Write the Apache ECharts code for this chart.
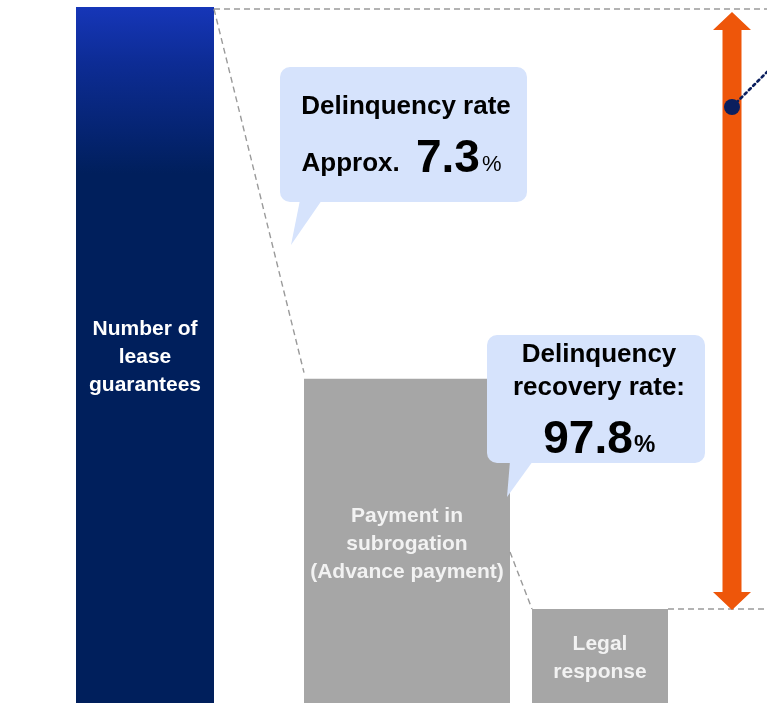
<!DOCTYPE html>
<html>
<head>
<meta charset="utf-8">
<script src="https://cdn.jsdelivr.net/npm/echarts@6/dist/echarts.min.js"></script>
<style>
html,body{margin:0;padding:0;background:#fff;}
#chart{width:767px;height:703px;}
</style>
</head>
<body>
<div id="chart"></div>
<script>
// ---- data ----
const categories = ['Number of\nlease\nguarantees', 'Payment in\nsubrogation\n(Advance payment)', 'Legal\nresponse'];
const values = [100, 46.6, 13.5];          // relative schematic heights
const delinquencyRate = 7.3;                // %
const recoveryRate = 97.8;                  // %
const bubbleTexts = [
  ['Delinquency rate', 'Approx. ', delinquencyRate.toFixed(1), '%'],
  ['Delinquency', 'recovery rate:', recoveryRate.toFixed(1), '%']
];

// ---- layout (pixel-space on a 0..767 x axis) ----
const BAR_SPAN = [[76, 214], [304, 510], [532, 668]];
const FONT = '"Liberation Sans", Arial, sans-serif';
const blueGrad = new echarts.graphic.LinearGradient(0, 0, 0, 1, [
  {offset: 0, color: '#1636B8'},
  {offset: 0.08, color: '#0D2C95'},
  {offset: 0.24, color: '#001F5C'},
  {offset: 1, color: '#001F5C'}
]);
const barColors = [blueGrad, '#A6A6A6', '#A6A6A6'];
const labelColors = ['#FFFFFF', '#F2F2F2', '#F2F2F2'];
const labelShift = [2, 3, 2];

const chart = echarts.init(document.getElementById('chart'), null, {renderer: 'canvas'});

function txt(str, x, baseline, size, weight, align, fill) {
  return {
    type: 'text',
    style: {
      text: str, x: x, y: baseline - size * 0.26,
      font: (weight || 'bold') + ' ' + size + 'px ' + FONT,
      fill: fill || '#000', align: align || 'center', verticalAlign: 'middle'
    },
    z2: 20
  };
}

function bubble(x, y, w, h, tail) {
  return [
    {type: 'rect', shape: {x: x, y: y, width: w, height: h, r: 10}, style: {fill: '#D6E3FC'}, z2: 10},
    {type: 'polygon', shape: {points: tail}, style: {fill: '#D6E3FC'}, z2: 10}
  ];
}

const option = {
  animation: false,
  grid: {left: 0, right: 0, top: 7, bottom: 0},
  xAxis: {type: 'value', min: 0, max: 767, show: false},
  yAxis: {type: 'value', min: 0, max: 100, show: false},
  series: [
    {
      type: 'custom',
      name: 'bars',
      data: values.map((v, i) => [i, v]),
      renderItem: function (params, api) {
        const i = params.dataIndex;
        const span = BAR_SPAN[i];
        const p0 = api.coord([span[0], api.value(1)]);
        const p1 = api.coord([span[1], 0]);
        return {
          type: 'group',
          children: [
            {type: 'rect', shape: {x: p0[0], y: p0[1], width: p1[0] - p0[0], height: p1[1] - p0[1]},
             style: {fill: barColors[i]}},
            {type: 'text', style: {
              text: categories[i], x: (p0[0] + p1[0]) / 2, y: (p0[1] + p1[1]) / 2 + labelShift[i],
              font: 'bold 21px ' + FONT, fill: labelColors[i], align: 'center',
              verticalAlign: 'middle', lineHeight: 28}, z2: 5}
          ]
        };
      }
    },
    {
      type: 'custom',
      name: 'annotations',
      data: [[0, 0]],
      z: 3,
      renderItem: function (params, api) {
        const dash = {stroke: '#9A9A9A', lineWidth: 1.4, lineDash: [6, 4], fill: null};
        const topL = api.coord([BAR_SPAN[0][1], values[0]]);
        const b1 = api.coord([BAR_SPAN[1][0], values[1]]);
        const b1r = api.coord([BAR_SPAN[1][1], 21.7]);
        const b2 = api.coord([BAR_SPAN[2][0], values[2]]);
        const b2r = api.coord([BAR_SPAN[2][1], values[2]]);
        const right = api.coord([767, 0])[0];
        const ax = 732;
        const aTop = topL[1] + 5, aBot = b2[1] + 1;
        const hw = 19, sw = 9.5, hh = 18;
        const children = [
          {type: 'line', shape: {x1: topL[0], y1: topL[1] + 2, x2: right, y2: topL[1] + 2}, style: dash},
          {type: 'line', shape: {x1: topL[0], y1: topL[1] + 2, x2: b1[0], y2: b1[1] - 6}, style: dash},
          {type: 'line', shape: {x1: b1r[0], y1: b1r[1], x2: b2[0], y2: b2[1]}, style: dash},
          {type: 'line', shape: {x1: b2r[0], y1: b2r[1], x2: right, y2: b2r[1]}, style: dash},
          {type: 'polygon', shape: {points: [
            [ax, aTop], [ax + hw, aTop + hh], [ax + sw, aTop + hh], [ax + sw, aBot - hh],
            [ax + hw, aBot - hh], [ax, aBot], [ax - hw, aBot - hh], [ax - sw, aBot - hh],
            [ax - sw, aTop + hh], [ax - hw, aTop + hh]]}, style: {fill: '#EE560A'}, z2: 4},
          {type: 'line', shape: {x1: ax, y1: 107, x2: right, y2: 107 - (right - ax)},
           style: {stroke: '#0B1F5E', lineWidth: 2.6, lineDash: [2.5, 3.5], lineCap: 'round'}, z2: 5},
          {type: 'circle', shape: {cx: ax, cy: 107, r: 8}, style: {fill: '#0B1F5E'}, z2: 6}
        ];
        // bubble 1
        bubble(280, 67, 247, 135, [[300, 200], [322, 200], [291, 245]]).forEach(c => children.push(c));
        children.push(txt(bubbleTexts[0][0], 406, 114, 26));
        children.push(txt(bubbleTexts[0][1], 407, 171, 26, 'bold', 'right'));
        children.push(txt(bubbleTexts[0][2], 416, 171, 46, 'bold', 'left'));
        children.push(txt(bubbleTexts[0][3], 482, 171, 22, 'normal', 'left'));
        // bubble 2
        bubble(487, 335, 218, 128, [[510, 461], [533, 461], [507, 497]]).forEach(c => children.push(c));
        children.push(txt(bubbleTexts[1][0], 599, 362, 26));
        children.push(txt(bubbleTexts[1][1], 599, 395, 26));
        children.push(txt(bubbleTexts[1][2], 588, 452, 46));
        children.push(txt(bubbleTexts[1][3], 634, 452, 24, 'bold', 'left'));
        return {type: 'group', children: children};
      }
    }
  ]
};
chart.setOption(option);
</script>
</body>
</html>
